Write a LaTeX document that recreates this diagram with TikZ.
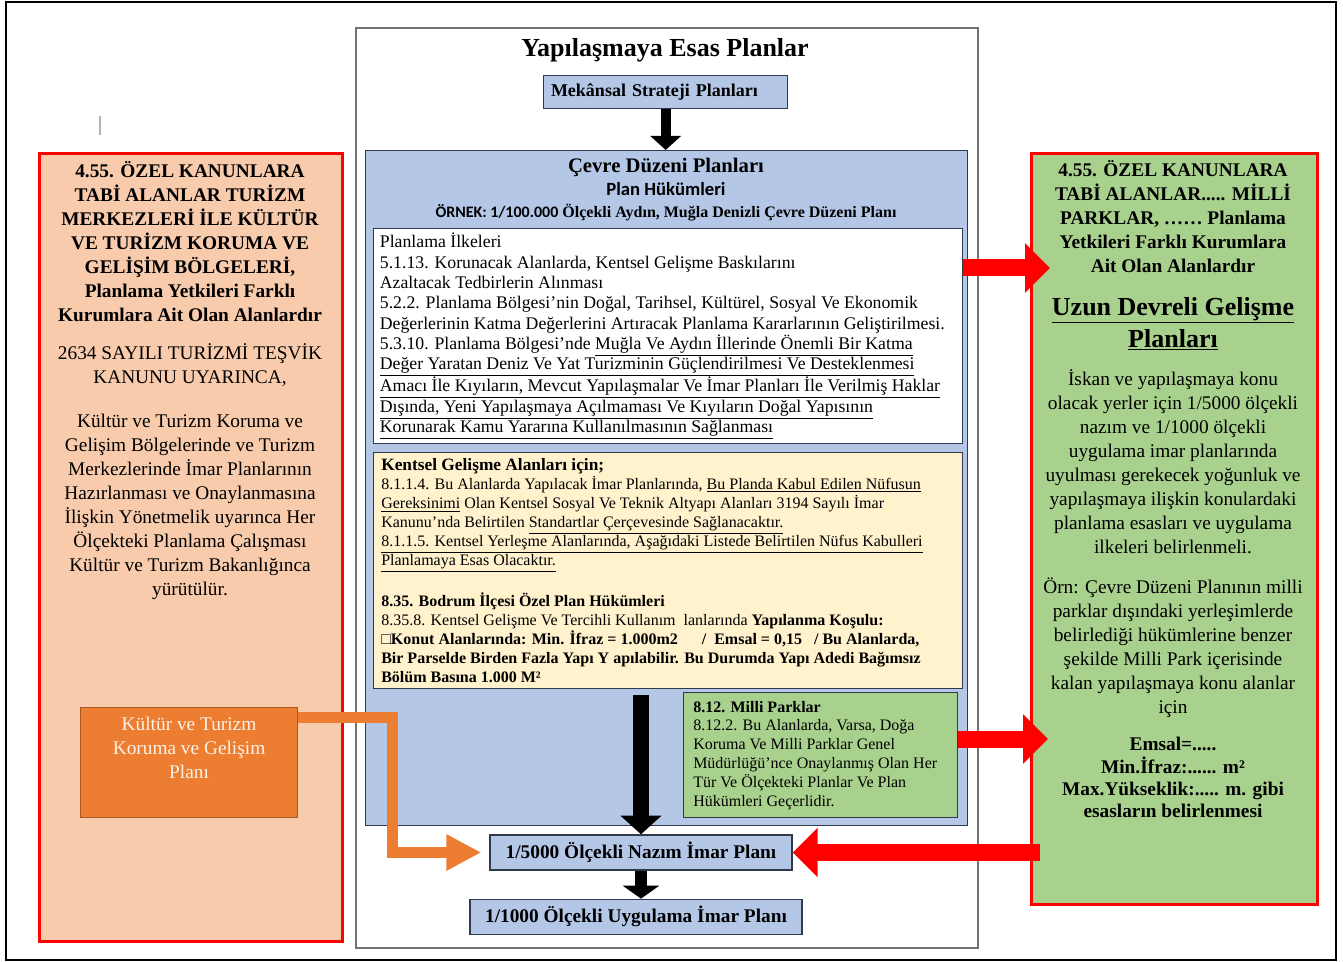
\documentclass[tikz,border=0pt]{standalone}
\usepackage{fontspec}
\setmainfont{Liberation Serif}
\newfontfamily\calibri{Carlito}
\usetikzlibrary{arrows.meta}
\usetikzlibrary{positioning}

\definecolor{planblue}{HTML}{B4C7E7}
\definecolor{planline}{HTML}{2F3A4A}
\definecolor{planyellow}{HTML}{FFF2CC}
\definecolor{plangreen}{HTML}{A9D18E}
\definecolor{planpeach}{HTML}{F8CBAD}
\definecolor{planorange}{HTML}{ED7D31}
\definecolor{planred}{HTML}{FF0000}

\tikzset{
    planbox/.style={
           rectangle,
           draw=planline, line width=1pt,
           fill=planblue,
           inner sep=0pt,
           font=\bfseries\fontsize{14.5}{17}\selectfont,
           text centered,
           },
    clausebox/.style={
           rectangle,
           draw=planline, line width=1pt,
           anchor=north west,
           inner sep=0pt,
           },
    clausetext/.style={
           anchor=west,
           align=left,
           inner sep=0pt,
           },
    sidebox/.style={
           rectangle,
           draw=planred, line width=2.2pt,
           anchor=north west,
           inner sep=0pt,
           },
    sidetext/.style={
           anchor=north,
           align=center,
           inner sep=0pt,
           font=\fontsize{14.5}{18}\selectfont,
           },
    blockarrow/.style n args={3}{
           line width=#1,
           -{Triangle[length=#2,width=#3]},
           },
}

\begin{document}
\begin{tikzpicture}[x=0.75pt,y=-0.75pt]
  \useasboundingbox (0,0) rectangle (1343,962);

  % page frame and the little cursor mark
  \draw[line width=1.5pt] (6,2) rectangle (1336,960);
  \draw[gray!60, line width=0.8pt] (100,116) -- (100,135);

  % left column: tourism areas
  \node[sidebox, fill=planpeach, minimum width=227.25pt, minimum height=591pt] (TURIZM) at (38,152) {};
  \node[sidetext] (TURIZMTEXT) at (190,161)
   {\textbf{4.55. ÖZEL KANUNLARA}\\
    \textbf{TABİ ALANLAR TURİZM}\\
    \textbf{MERKEZLERİ İLE KÜLTÜR}\\
    \textbf{VE TURİZM KORUMA VE}\\
    \textbf{GELİŞİM BÖLGELERİ,}\\
    \textbf{Planlama Yetkileri Farklı}\\
    \textbf{Kurumlara Ait Olan Alanlardır}\\[10.5pt]
    2634 SAYILI TURİZMİ TEŞVİK\\
    KANUNU UYARINCA,\\[15pt]
    Kültür ve Turizm Koruma ve\\
    Gelişim Bölgelerinde ve Turizm\\
    Merkezlerinde İmar Planlarının\\
    Hazırlanması ve Onaylanmasına\\
    İlişkin Yönetmelik uyarınca Her\\
    Ölçekteki Planlama Çalışması\\
    Kültür ve Turizm Bakanlığınca\\
    yürütülür.};

  \node[rectangle, draw=planorange!70!black, line width=0.8pt, fill=planorange,
    anchor=north west, minimum width=162.75pt, minimum height=82.5pt] (KTKB) at (80,707) {};
  \node[sidetext, text=white!90!planorange, below=7pt of KTKB.north] (KTKBTEXT)
   {Kültür ve Turizm\\Koruma ve Gelişim\\Planı};

  % middle column: plans for building
  \node[draw=gray!90!black, line width=1.2pt, anchor=north west,
    minimum width=466.5pt, minimum height=690pt, inner sep=0pt] (ESAS) at (355,27) {};
  \node[font=\bfseries\fontsize{19.5}{22}\selectfont, inner sep=0pt] (ESASTITLE) at (665,50)
   {Yapılaşmaya Esas Planlar};
  \node[planbox, anchor=north west, minimum width=183pt, minimum height=24.75pt,
    text width=172pt, inner xsep=5.5pt, align=left,
    font=\bfseries\fontsize{13.5}{16}\selectfont] (STRATEJI) at (543,75)
   {Mekânsal Strateji Planları};

  \node[planbox, anchor=north west, minimum width=451.5pt, minimum height=506.25pt] (CEVRE) at (365,150) {};
  \node[anchor=north, align=center, inner sep=0pt, font=\fontsize{12}{17}\selectfont] (CEVREHEAD) at (666,158)
   {{\bfseries\fontsize{15.5}{17}\selectfont Çevre Düzeni Planları}\\
    {\calibri\bfseries\fontsize{14}{17}\selectfont Plan Hükümleri}\\
    \textbf{{\calibri ÖRNEK: 1/100.000} Ölçekli Aydın, Muğla Denizli Çevre Düzeni Planı}};

  \node[clausebox, fill=white, minimum width=441.75pt, minimum height=161.25pt] (ILKELER) at (373,228) {};
  \node[clausetext, right=5pt of ILKELER.west, font=\fontsize{13.3}{15.2}\selectfont] (ILKELERTEXT)
   {Planlama İlkeleri\\
    5.1.13. Korunacak Alanlarda, Kentsel Gelişme Baskılarını\\
    Azaltacak Tedbirlerin Alınması\\
    5.2.2. Planlama Bölgesi'nin Doğal, Tarihsel, Kültürel, Sosyal Ve Ekonomik\\
    Değerlerinin Katma Değerlerini Artıracak Planlama Kararlarının Geliştirilmesi.\\
    5.3.10. Planlama Bölgesi'nde \underline{Muğla Ve Aydın İllerinde Önemli Bir Katma}\\
    \underline{Değer Yaratan Deniz Ve Yat Turizminin Güçlendirilmesi Ve Desteklenmesi}\\
    \underline{Amacı İle Kıyıların, Mevcut Yapılaşmalar Ve İmar Planları İle Verilmiş Haklar}\\
    \underline{Dışında, Yeni Yapılaşmaya Açılmaması Ve Kıyıların Doğal Yapısının}\\
    \underline{Korunarak Kamu Yararına Kullanılmasının Sağlanması}};

  \node[clausebox, fill=planyellow, minimum width=441.75pt, minimum height=177pt] (KENTSEL) at (373,452) {};
  \node[clausetext, right=6pt of KENTSEL.west, font=\fontsize{12}{14.3}\selectfont] (KENTSELTEXT)
   {{\bfseries\fontsize{13}{14.3}\selectfont Kentsel Gelişme Alanları için;}\\
    8.1.1.4. Bu Alanlarda Yapılacak İmar Planlarında, \underline{Bu Planda Kabul Edilen Nüfusun}\\
    \underline{Gereksinimi} Olan Kentsel Sosyal Ve Teknik Altyapı Alanları 3194 Sayılı İmar\\
    Kanunu'nda Belirtilen \underline{Standartlar Çerçevesinde Sağlanacaktır.}\\
    \underline{8.1.1.5. Kentsel Yerleşme Alanlarında, Aşağıdaki Listede Belirtilen Nüfus Kabulleri}\\
    \underline{Planlamaya Esas Olacaktır.}\\[14.3pt]
    \textbf{8.35. Bodrum İlçesi Özel Plan Hükümleri}\\
    8.35.8. Kentsel Gelişme Ve Tercihli Kullanım\ \ lanlarında \textbf{Yapılanma Koşulu:}\\
    \textbf{□Konut Alanlarında: Min. İfraz = 1.000m2 \quad\ / \ Emsal = 0,15 \ \ / Bu Alanlarda,}\\
    \textbf{Bir Parselde Birden Fazla Yapı Y apılabilir. Bu Durumda Yapı Adedi Bağımsız}\\
    \textbf{Bölüm Basına 1.000 M²}};

  \node[clausebox, fill=plangreen, minimum width=205.5pt, minimum height=93.75pt] (MILLI) at (683,692) {};
  \node[clausetext, right=7.5pt of MILLI.west, font=\fontsize{12}{14.1}\selectfont] (MILLITEXT)
   {\textbf{8.12. Milli Parklar}\\
    8.12.2. Bu Alanlarda, Varsa, Doğa\\
    Koruma Ve Milli Parklar Genel\\
    Müdürlüğü'nce Onaylanmış Olan Her\\
    Tür Ve Ölçekteki Planlar Ve Plan\\
    Hükümleri Geçerlidir.};

  \node[planbox, minimum width=226.5pt, minimum height=26.25pt] (NAZIM) at (641,852.5)
   {1/5000 Ölçekli Nazım İmar Planı};
  \node[planbox, minimum width=249pt, minimum height=26.25pt, below=21pt of NAZIM, xshift=-3.75pt] (UYGULAMA)
   {1/1000 Ölçekli Uygulama İmar Planı};

  % right column: national parks
  \node[sidebox, fill=plangreen, minimum width=214.5pt, minimum height=563.25pt] (PARK) at (1030,152) {};
  \node[sidetext] (PARKHEAD) at (1173,160)
   {\textbf{4.55. ÖZEL KANUNLARA}\\
    \textbf{TABİ ALANLAR..... MİLLİ}\\
    \textbf{PARKLAR, …… Planlama}\\
    \textbf{Yetkileri Farklı Kurumlara}\\
    \textbf{Ait Olan Alanlardır}};
  \node[sidetext, font=\bfseries\fontsize{19.5}{24}\selectfont] (PARKTITLE) at (1173,297)
   {\underline{Uzun Devreli Gelişme}\\
    \underline{Planları}};
  \node[sidetext] (PARKBODY) at (1173,369)
   {İskan ve yapılaşmaya konu\\
    olacak yerler için 1/5000 ölçekli\\
    nazım ve 1/1000 ölçekli\\
    uygulama imar planlarında\\
    uyulması gerekecek yoğunluk ve\\
    yapılaşmaya ilişkin konulardaki\\
    planlama esasları ve uygulama\\
    ilkeleri belirlenmeli.};
  \node[sidetext] (PARKORNEK) at (1173,578)
   {Örn: Çevre Düzeni Planının milli\\
    parklar dışındaki yerleşimlerde\\
    belirlediği hükümlerine benzer\\
    şekilde Milli Park içerisinde\\
    kalan yapılaşmaya konu alanlar\\
    için};
  \node[sidetext, font=\bfseries\fontsize{14.5}{16.75}\selectfont] (PARKEMSAL) at (1173,737)
   {Emsal=.....\\
    Min.İfraz:...... m²\\
    Max.Yükseklik:..... m. gibi\\
    esasların belirlenmesi};

  % connectors
  \draw[blockarrow={7.5pt}{10.5pt}{22.5pt}] (STRATEJI.south) -- (STRATEJI.south |- CEVRE.north);
  \coordinate (PLANSTEM) at (641,695);
  \draw[blockarrow={12pt}{14pt}{30pt}] (PLANSTEM) -- (NAZIM);
  \draw[blockarrow={9pt}{9.75pt}{27pt}] (NAZIM.south) -- (NAZIM.south |- UYGULAMA.north);

  \coordinate (KTKBBEND) at (392,780);
  \draw[planorange, blockarrow={8.25pt}{26.25pt}{25.5pt}, shorten >=6pt]
    ([yshift=-7.5pt]KTKB.north east) -| (KTKBBEND) |- (NAZIM.west);

  \coordinate (PARKTIP) at (1050,268);
  \coordinate (MILLITIP) at (1048,739);
  \coordinate (PARKTAIL) at (1040,852.5);
  \draw[planred, blockarrow={12.75pt}{18.75pt}{36pt}] (ILKELER.east |- PARKTIP) -- (PARKTIP);
  \draw[planred, blockarrow={12.75pt}{18.75pt}{36pt}] (MILLI.east |- MILLITIP) -- (MILLITIP);
  \draw[planred, blockarrow={12.75pt}{18.75pt}{36pt}] (PARKTAIL) -- (NAZIM.east);

\end{tikzpicture}
\end{document}
